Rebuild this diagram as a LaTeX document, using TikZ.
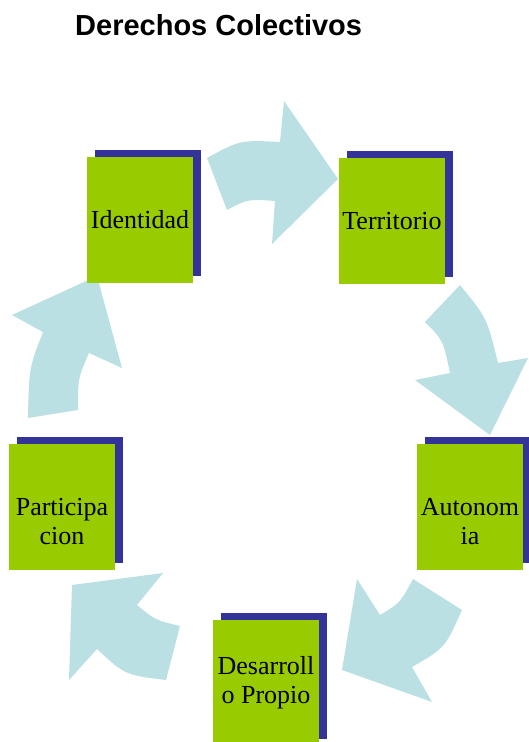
\documentclass[tikz,border=0pt]{standalone}
\usepackage{fontspec}
\setmainfont{Liberation Serif}
\newfontfamily\titlefont{Liberation Sans}
\usetikzlibrary{shadows}
\definecolor{cycBoxColor}{RGB}{153,204,0}
\definecolor{cycShadowColor}{RGB}{51,51,153}
\definecolor{cycArrowColor}{RGB}{187,224,227}

\begin{document}
\begin{tikzpicture}[x=1pt, y=-1pt,
    box/.style={fill=cycBoxColor, minimum width=106pt, minimum height=126pt, inner sep=0, outer sep=0,
      drop shadow={shadow xshift=8pt, shadow yshift=7pt, fill=cycShadowColor, opacity=1}},
    lbl/.style={font=\fontsize{26}{29}\selectfont, align=center, inner sep=0},
    bigarrow/.style={fill=cycArrowColor}
  ]
  \useasboundingbox (0,0) rectangle (529,742);
  \node[anchor=base west, inner sep=0, font=\titlefont\bfseries\fontsize{29}{34}\selectfont] (title) at (75,35) {Derechos Colectivos};

  % curved arrows of the cycle
  \fill[bigarrow] (207,158) .. controls (240,140) .. (280,142) -- (284,101) -- (338,179) -- (272,244)
    -- (275,201) .. controls (248,199) .. (227,210) -- cycle;
  \fill[bigarrow] (460,285) .. controls (487,318) .. (498,363) -- (528,358) -- (490,435) -- (415,380)
    -- (450,373) .. controls (443,340) .. (425,322) -- cycle;
  \fill[bigarrow] (462,610) .. controls (445,648) .. (412,667) -- (432,702) -- (342,670) -- (357,579)
    -- (380,615) .. controls (400,603) .. (413,579) -- cycle;
  \fill[bigarrow] (166,680) .. controls (125,675) .. (97,649) -- (69,680) -- (72,585) -- (163,573)
    -- (137,605) .. controls (155,620) .. (180,626) -- cycle;
  \fill[bigarrow] (28,418) .. controls (29,368) .. (43,332) -- (12,315) -- (97,276) -- (122,368)
    -- (89,353) .. controls (78,378) .. (78,410) -- cycle;

  % boxes
  \node[box] (identidad) at (140,220) {};
  \node[lbl] (identidadTxt) at (identidad.center) {Identidad};
  \node[box] (territorio) at (392,221) {};
  \node[lbl] (territorioTxt) at (territorio.center) {Territorio};
  \node[box] (autonomia) at (470,507) {};
  \node[lbl] (autonomiaTxt) at ([yshift=-15pt]autonomia.center) {Autonom\\ia};
  \node[box] (desarrollo) at (266,683) {};
  \node[lbl] (desarrolloTxt) at (desarrollo.center) {Desarroll\\o Propio};
  \node[box] (participacion) at (62,507) {};
  \node[lbl] (participacionTxt) at ([yshift=-15pt]participacion.center) {Participa\\cion};
\end{tikzpicture}
\end{document}
